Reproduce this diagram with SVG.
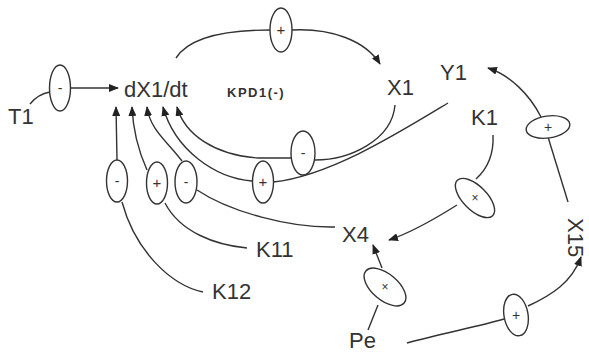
<svg xmlns="http://www.w3.org/2000/svg" width="589" height="354" viewBox="0 0 589 354">
<defs>
<marker id="ah" markerUnits="userSpaceOnUse" markerWidth="10" markerHeight="8" refX="9" refY="4" orient="auto">
<path d="M0,0 L10,4 L0,8 Z" fill="#222"/>
</marker>
<style>
.lbl{font-family:"Liberation Sans",Arial,sans-serif;font-size:22px;fill:#333}
.sm{font-family:"Liberation Sans",Arial,sans-serif;font-size:13px;font-weight:bold;fill:#333;letter-spacing:1.5px}
.sym{font-family:"Liberation Sans",Arial,sans-serif;fill:#333;text-anchor:middle}
.ell{fill:#fff;stroke:#333;stroke-width:1.4}
.c{fill:none;stroke:#333;stroke-width:1.4}
.a{marker-end:url(#ah)}
</style>
</defs>
<rect width="589" height="354" fill="#fff"/>
<g id="connectors">
<path class="c" d="M30,104 Q38,94 50,92"/>
<path class="c a" d="M71,88 L118,88"/>
<path class="c" d="M176,58 C190,36 230,30 270,30"/>
<path class="c a" d="M292,30 C330,28 365,40 380,64"/>
<path class="c" d="M395,105 C392,140 350,160 315,160"/>
<path class="c a" d="M292,158 L258,158 C215,155 185,135 177,107"/>
<path class="c" d="M448,103 C400,132 330,176 273,182"/>
<path class="c a" d="M252,181 C215,178 175,150 163,107"/>
<path class="c" d="M335,227 C290,228 230,212 197,190"/>
<path class="c a" d="M182,161 C168,142 150,130 147,107"/>
<path class="c" d="M247,248 C215,245 180,232 165,203"/>
<path class="c a" d="M147,170 C138,150 133,130 132,107"/>
<path class="c" d="M203,292 C170,285 135,250 122,202"/>
<path class="c a" d="M117,160 L116,107"/>
<path class="c" d="M493,135 C494,155 486,170 476,179"/>
<path class="c a" d="M457,205 C430,222 410,233 389,240"/>
<path class="c a" d="M382,268 L373,245"/>
<path class="c" d="M368,330 L378,305"/>
<path class="c" d="M407,343 C440,334 480,326 504,319"/>
<path class="c a" d="M528,306 C552,295 572,282 581,257"/>
<path class="c" d="M568,202 L548,137"/>
<path class="c a" d="M541,117 C530,95 510,75 488,68"/>
</g>
<g id="T1"><text class="lbl" x="8" y="124">T1</text></g>
<g id="dX1dt"><text class="lbl" x="124" y="97">dX1/dt</text></g>
<g id="KPD1"><text class="sm" x="227" y="97">KPD1(-)</text></g>
<g id="X1"><text class="lbl" x="387" y="95">X1</text></g>
<g id="Y1"><text class="lbl" x="440" y="80">Y1</text></g>
<g id="K1"><text class="lbl" x="471" y="125">K1</text></g>
<g id="X4"><text class="lbl" x="342" y="242">X4</text></g>
<g id="K11"><text class="lbl" x="256" y="257">K11</text></g>
<g id="K12"><text class="lbl" x="212" y="299">K12</text></g>
<g id="Pe"><text class="lbl" x="349" y="348">Pe</text></g>
<g id="X15"><text class="lbl" transform="translate(568,218) rotate(90)">X15</text></g>
<g id="s-T1"><ellipse class="ell" cx="60" cy="88" rx="10.5" ry="23"/><text class="sym" x="60" y="93" font-size="14">-</text></g>
<g id="s-top"><ellipse class="ell" cx="281" cy="30" rx="11" ry="22"/><text class="sym" x="281" y="35" font-size="15">+</text></g>
<g id="s-X1"><ellipse class="ell" cx="303" cy="153" rx="12" ry="22"/><text class="sym" x="303" y="158" font-size="14">-</text></g>
<g id="s-Y1"><ellipse class="ell" cx="263" cy="182" rx="10.5" ry="21"/><text class="sym" x="263" y="187" font-size="15">+</text></g>
<g id="s-X4"><ellipse class="ell" cx="186" cy="182" rx="11" ry="21"/><text class="sym" x="186" y="187" font-size="14">-</text></g>
<g id="s-K11"><ellipse class="ell" cx="157" cy="183" rx="10.5" ry="21"/><text class="sym" x="157" y="188" font-size="15">+</text></g>
<g id="s-K12"><ellipse class="ell" cx="117" cy="181" rx="10.5" ry="21"/><text class="sym" x="117" y="186" font-size="14">-</text></g>
<g id="s-K1"><ellipse class="ell" cx="475" cy="198" rx="12" ry="25" transform="rotate(-45 475 198)"/><text class="sym" x="475" y="202" font-size="12">×</text></g>
<g id="s-Pe"><ellipse class="ell" cx="385" cy="287" rx="13" ry="25" transform="rotate(-50 385 287)"/><text class="sym" x="385" y="291" font-size="12">×</text></g>
<g id="s-X15"><ellipse class="ell" cx="516" cy="315" rx="12" ry="21" transform="rotate(-10 516 315)"/><text class="sym" x="516" y="320" font-size="14">+</text></g>
<g id="s-Y1b"><ellipse class="ell" cx="548" cy="127" rx="22" ry="11" transform="rotate(-8 548 127)"/><text class="sym" x="548" y="132" font-size="14">+</text></g>
</svg>
